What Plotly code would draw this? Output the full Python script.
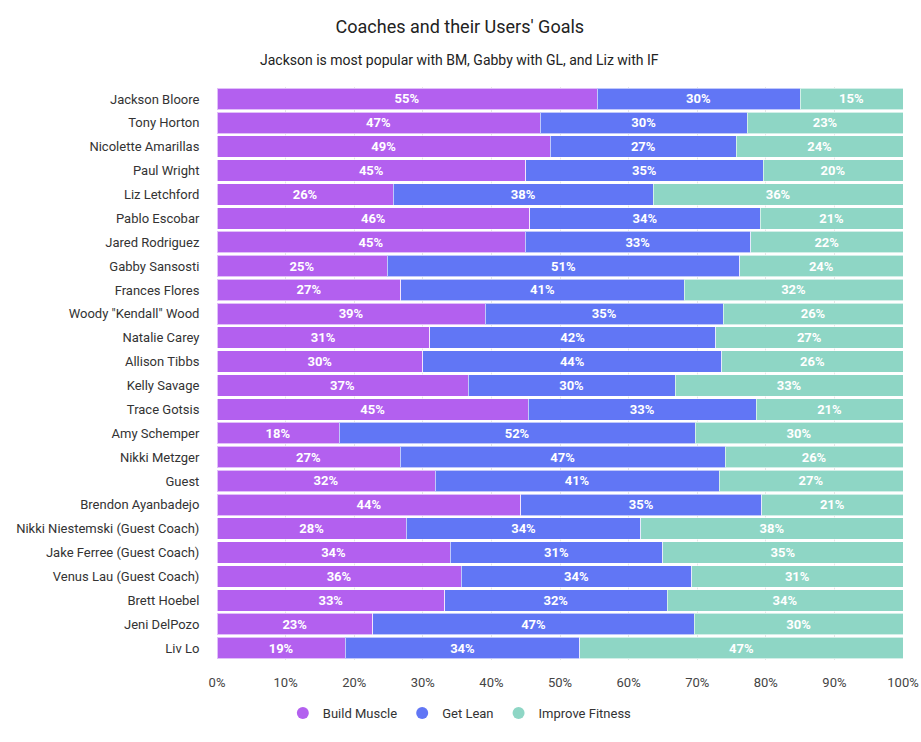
import plotly.graph_objects as go

coaches = [
    'Jackson Bloore', 'Tony Horton', 'Nicolette Amarillas', 'Paul Wright',
    'Liz Letchford', 'Pablo Escobar', 'Jared Rodriguez', 'Gabby Sansosti',
    'Frances Flores', 'Woody "Kendall" Wood', 'Natalie Carey', 'Allison Tibbs',
    'Kelly Savage', 'Trace Gotsis', 'Amy Schemper', 'Nikki Metzger', 'Guest',
    'Brendon Ayanbadejo', 'Nikki Niestemski (Guest Coach)',
    'Jake Ferree (Guest Coach)', 'Venus Lau (Guest Coach)', 'Brett Hoebel',
    'Jeni DelPozo', 'Liv Lo',
]

build_muscle = [55.4, 47.1, 48.6, 45.0, 25.7, 45.6, 44.9, 24.8, 26.8, 39.1, 31.0, 30.0,
                36.6, 45.4, 17.8, 26.7, 31.8, 44.3, 27.6, 34.0, 35.6, 33.2, 22.7, 18.7]
get_lean = [29.6, 30.2, 27.1, 34.6, 37.9, 33.6, 32.9, 51.4, 41.3, 34.7, 41.7, 43.6,
            30.2, 33.2, 51.9, 47.4, 41.4, 35.1, 34.2, 31.0, 33.6, 32.4, 46.9, 34.2]
improve_fitness = [15.0, 22.7, 24.3, 20.4, 36.4, 20.8, 22.2, 23.8, 31.9, 26.2, 27.3, 26.4,
                   33.2, 21.4, 30.3, 25.9, 26.8, 20.6, 38.2, 35.0, 30.8, 34.4, 30.4, 47.1]

x_ticks = [0, 10, 20, 30, 40, 50, 60, 70, 80, 90, 100]
x_tick_labels = ['0%', '10%', '20%', '30%', '40%', '50%', '60%', '70%', '80%', '90%', '100%']

series = [
    ('Build Muscle', build_muscle, '#b360ef'),
    ('Get Lean', get_lean, '#6176f5'),
    ('Improve Fitness', improve_fitness, '#8ed6c5'),
]

fig = go.Figure()
for name, vals, color in series:
    fig.add_trace(go.Bar(
        y=coaches, x=vals, name=name, orientation='h',
        marker=dict(color=color, line=dict(color='rgba(255,255,255,0.6)', width=1)),
        texttemplate='%{x:.0f}%', textposition='inside', insidetextanchor='middle',
        textangle=0, constraintext='none',
        textfont=dict(family='Roboto', size=13, color='white', weight='bold'),
        showlegend=False, hoverinfo='skip',
    ))
    # circle markers for the legend
    fig.add_trace(go.Scatter(
        x=[None], y=[None], mode='markers', name=name,
        marker=dict(color=color, size=14, symbol='circle'),
    ))

fig.update_layout(
    width=921, height=742,
    barmode='stack', bargap=0.1,
    paper_bgcolor='white', plot_bgcolor='white',
    margin=dict(l=217, r=18, t=87, b=82),
    font=dict(family='Roboto', size=13, color='#333333'),
    title=dict(text="Coaches and their Users' Goals", xref='paper', x=0.354,
               xanchor='center', yref='container', y=0.9636, yanchor='middle',
               font=dict(size=18, color='#222222')),
    annotations=[dict(text='Jackson is most popular with BM, Gabby with GL, and Liz with IF',
                      xref='paper', yref='paper', x=0.354, y=1,
                      xanchor='center', yanchor='middle', yshift=27, showarrow=False,
                      font=dict(size=14, color='#222222'))],
    legend=dict(orientation='h', traceorder='normal', x=0.354, xanchor='center',
                y=-0.0925, yanchor='middle',
                font=dict(size=13, color='#333333'), itemsizing='constant'),
    xaxis=dict(range=[0, 100], tickvals=x_ticks, ticktext=x_tick_labels,
               showgrid=True, gridcolor='#e6e6e6', zeroline=False, automargin=False,
               ticks='outside', ticklen=10, tickcolor='rgba(0,0,0,0)',
               ticklabeloverflow='allow',
               tickfont=dict(size=13, color='#444444'), fixedrange=True),
    yaxis=dict(autorange='reversed', showgrid=False, ticks='outside', ticklen=14,
               automargin=False, tickcolor='rgba(0,0,0,0)',
               tickfont=dict(size=13, color='#333333')),
)

# drop the default 8px page margin so the figure sits at the window's corner
fig.write_html('out.html', config={'displayModeBar': False},
               post_script="document.body.style.margin='0';")
